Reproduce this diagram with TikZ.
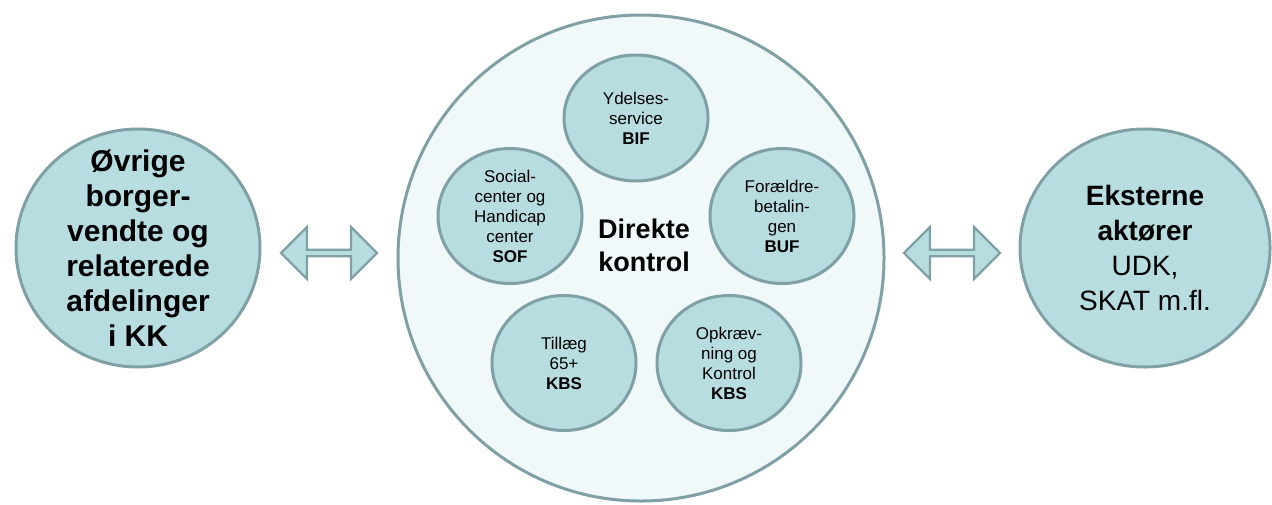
\documentclass[tikz,border=0pt]{standalone}
\usepackage{fontspec}
\setmainfont{Liberation Sans}
\usetikzlibrary{calc,positioning,shapes.geometric,shapes.arrows}
\definecolor{teal1}{HTML}{B7DDE1}
\definecolor{teal2}{HTML}{7FA0A4}
\definecolor{teal3}{HTML}{F0F8F9}

\begin{document}
\begin{tikzpicture}[x=0.5pt,y=-0.5pt,
  big/.style={ellipse,draw=teal2,fill=teal1,line width=1.5pt,align=center,inner sep=-15pt},
  small/.style={ellipse,draw=teal2,fill=teal1,line width=1.5pt,align=center,inner sep=-5pt,minimum width=72pt,minimum height=67.5pt,font=\fontsize{8.5pt}{10pt}\selectfont},
  dbl/.style={double arrow,draw=teal2,fill=teal1,line width=1.2pt,inner sep=0pt,minimum height=48pt,minimum width=26pt,double arrow head extend=4.2pt}]
  \useasboundingbox (0,0) rectangle (1272,504);
  \node[ellipse,draw=teal2,fill=teal3,line width=1.5pt,minimum width=243pt,minimum height=243pt] (dk) at (641,258) {};
  \node[font=\fontsize{13.5pt}{16.5pt}\selectfont\bfseries,align=center] (dkt) at (644,245) {Direkte\\kontrol};

  \node[small,minimum height=63pt] (bif) at (636,118) {Ydelses-\\service\\\textbf{BIF}};
  \node[small] (sof) at (510,216) {Social-\\center og\\Handicap\\center\\\textbf{SOF}};
  \node[small] (buf) at (782,216) {Forældre-\\betalin-\\gen\\\textbf{BUF}};
  \node[small] (kbs1) at (564,363) {Tillæg\\65+\\\textbf{KBS}};
  \node[small] (kbs2) at (729,363) {Opkræv-\\ning og\\Kontrol\\\textbf{KBS}};

  \node[big,minimum width=122pt,minimum height=119pt,font=\fontsize{15pt}{17.5pt}\selectfont\bfseries] (kk) at (138,248) {Øvrige\\borger-\\vendte og\\relaterede\\afdelinger\\i KK};
  \node[big,minimum width=125pt,minimum height=119pt,font=\fontsize{14pt}{17.5pt}\selectfont] (ext) at (1145,248) {\textbf{Eksterne}\\\textbf{aktører}\\UDK,\\SKAT m.fl.};

  \node[dbl] (arr1) at ($(kk.east)!0.5!(dk.west)$) {};
  \node[dbl] (arr2) at ($(dk.east)!0.5!(ext.west)$) {};
\end{tikzpicture}
\end{document}
